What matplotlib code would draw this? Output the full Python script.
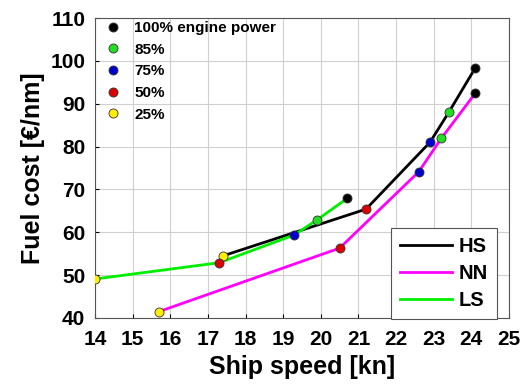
import matplotlib
matplotlib.use("Agg")
import matplotlib.pyplot as plt
from matplotlib.lines import Line2D

plt.rcParams["font.family"] = ["Liberation Sans", "DejaVu Sans"]
plt.rcParams["font.weight"] = "bold"

# engine power levels: 25%, 50%, 75%, 85%, 100%
power_labels = ["100% engine power", "85%", "75%", "50%", "25%"]
power_colors = ["black", "#22dd22", "#0000cc", "#dd0000", "#ffee00"]

# speeds / costs per route, ordered 25, 50, 75, 85, 100 %
hs_speed = [17.4, 21.2, 22.9, 23.4, 24.1]
hs_cost  = [54.5, 65.4, 81.0, 88.0, 98.3]
nn_speed = [15.7, 20.5, 22.6, 23.2, 24.1]
nn_cost  = [41.5, 56.3, 74.1, 81.9, 92.4]
ls_speed = [14.0, 17.3, 19.3, 19.9, 20.7]
ls_cost  = [49.1, 52.9, 59.4, 62.9, 67.9]

series = [("HS", hs_speed, hs_cost, "black"),
          ("NN", nn_speed, nn_cost, "#ff00ff"),
          ("LS", ls_speed, ls_cost, "#00ee00")]

# dot colour for 25, 50, 75, 85, 100 %
dot_colors = power_colors[::-1]

fig = plt.figure(figsize=(5.29, 3.92), dpi=100)
ax = fig.add_axes([0.1796, 0.1888, 0.7826, 0.7652])

handles = []
for name, xs, ys, col in series:
    h, = ax.plot(xs, ys, color=col, lw=2, label=name, zorder=2)
    handles.append(h)
for name, xs, ys, col in series:
    for x, y, c in zip(xs, ys, dot_colors):
        ax.plot(x, y, "o", ms=6.5, mfc=c, mec="#333333", mew=0.6, zorder=3)

ax.set_xlim(14, 25)
ax.set_ylim(40, 110)
ax.set_xticks(range(14, 26))
ax.set_yticks(range(40, 111, 10))
ax.tick_params(axis="x", labelsize=15, length=3, direction="in", pad=9)
ax.tick_params(axis="y", labelsize=15, length=3, direction="in", pad=7)
ax.grid(True, color="#d0d0d0", lw=0.8)
ax.set_axisbelow(True)
for s in ax.spines.values():
    s.set_color("#555555")

ax.set_xlabel("Ship speed [kn]", fontsize=18, fontweight="bold", labelpad=4)
ax.set_ylabel("Fuel cost [€/nm]", fontsize=18, fontweight="bold", labelpad=4)

dot_handles = [Line2D([], [], ls="none", marker="o", ms=6.5, mfc=c,
                      mec="#333333", mew=0.6) for c in power_colors]
leg1 = ax.legend(dot_handles, power_labels, loc="upper left", frameon=False,
                 fontsize=11, handlelength=1.0, handletextpad=0.9,
                 labelspacing=0.5, borderaxespad=0.0,
                 bbox_to_anchor=(0.01, 1.01))
ax.add_artist(leg1)

leg2 = ax.legend(handles=handles, loc="lower right", fontsize=14.5,
                 fancybox=False, edgecolor="#555555", framealpha=1,
                 handlelength=2.6, handletextpad=0.3, labelspacing=0.4,
                 borderpad=0.45, borderaxespad=0.0,
                 bbox_to_anchor=(0.97, -0.005))
leg2.get_frame().set_linewidth(0.8)

fig.savefig("out.png", dpi=100)
